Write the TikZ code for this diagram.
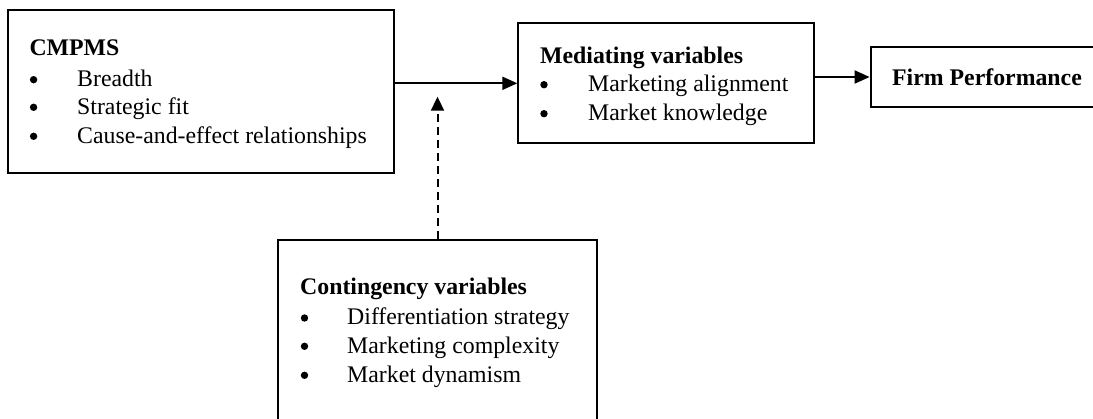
\documentclass[tikz,border=0pt]{standalone}
\usepackage{fontspec}
\setmainfont{Liberation Serif}
\usetikzlibrary{arrows.meta}
\tikzset{
  frame/.style={draw=black, line width=2pt, inner sep=0pt, fill=none},
  txt/.style={anchor=base west, inner sep=0pt, font=\fontsize{23.8}{28}\selectfont},
  head/.style={txt, font=\fontsize{23.8}{28}\selectfont\bfseries},
  dot/.style={circle, fill=black, inner sep=0pt, minimum size=7.4pt},
  link/.style={line width=2pt, -{Triangle[length=15pt,width=13pt]}},
  modlink/.style={line width=2pt, dash pattern=on 8pt off 5pt, -{Triangle[length=14pt,width=13pt]}}
}
\begin{document}
\begin{tikzpicture}[x=1pt,y=-1pt]
\clip (0,0) rectangle (1093,419);
\fill[white] (0,0) rectangle (1093,419);

% boxes
\node[frame, minimum width=386pt, minimum height=162.6pt] (cmpms) at (201,91.3) {};
\node[frame, minimum width=296pt, minimum height=120pt] (med) at (666.3,83.3) {};
\node[frame, minimum width=232.6pt, minimum height=59.4pt] (firm) at (986.9,77) {};
\node[frame, minimum width=319pt, minimum height=182pt] (cont) at (437.5,331) {};

% CMPMS
\node[head] (cmpmsT) at (29.3,56) {CMPMS};
\node[dot] (cb1) at (33.6,79.7) {};
\node[txt] (ci1) at (77,86.7) {Breadth};
\node[dot] (cb2) at (33.6,107.3) {};
\node[txt] (ci2) at (77,114.3) {Strategic fit};
\node[dot] (cb3) at (33.6,136.3) {};
\node[txt] (ci3) at (77,143.3) {Cause-and-effect relationships};

% mediating variables
\node[head] (medT) at (540,63.3) {Mediating variables};
\node[dot] (mb1) at (544,84.7) {};
\node[txt] (mi1) at (588,91.7) {Marketing alignment};
\node[dot] (mb2) at (544,113.7) {};
\node[txt] (mi2) at (588,120.7) {Market knowledge};

% firm performance
\node[head, anchor=base] (firmT) at (987,86) {Firm Performance};

% contingency variables
\node[head] (contT) at (300,295) {Contingency variables};
\node[dot] (kb1) at (304.5,318) {};
\node[txt] (ki1) at (347,325) {Differentiation strategy};
\node[dot] (kb2) at (304.5,346.3) {};
\node[txt] (ki2) at (347,353.3) {Marketing complexity};
\node[dot] (kb3) at (304.5,375.3) {};
\node[txt] (ki3) at (347,382.3) {Market dynamism};

% connectors
\draw[link] (cmpms.east |- med.west) -- (med.west);
\draw[link] (med.east |- firm.west) -- (firm.west);
\coordinate (modtip) at (cont.north |- 0,96.7);
\draw[modlink] (cont.north) -- (modtip);
\end{tikzpicture}
\end{document}
